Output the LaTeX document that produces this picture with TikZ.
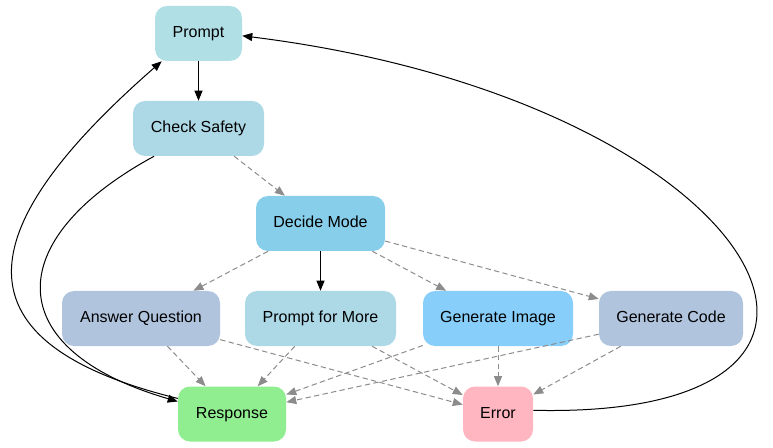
\documentclass[tikz,border=0pt]{standalone}
\usepackage{fontspec}
\setmainfont{Liberation Sans}
\usetikzlibrary{arrows.meta}
\definecolor{powder}{HTML}{B0E0E6}
\definecolor{light}{HTML}{ADD8E6}
\definecolor{sky}{HTML}{87CEEB}
\definecolor{lightsky}{HTML}{87CEFA}
\definecolor{steel}{HTML}{B0C4DE}
\definecolor{green}{HTML}{90EE90}
\definecolor{pink}{HTML}{FFB6C1}
\definecolor{edgegray}{HTML}{8C8C8C}
\begin{document}
\begin{tikzpicture}[x=0.75pt,y=-0.75pt,
    box/.style={rounded corners=9pt, minimum height=41.25pt, inner sep=0pt,
      text height=8.7pt, text depth=2.4pt, font=\fontsize{12}{14}\selectfont},
    flow/.style={-{Triangle[length=7.5pt,width=6pt]}, line width=0.75pt},
    alt/.style={flow, draw=edgegray, dash pattern=on 4pt off 2.5pt}]
  \useasboundingbox (0,0) rectangle (773,448);
  % states
  \node[box, fill=powder, minimum width=65.25pt] (prompt) at (198.5,33.5) {Prompt};
  \node[box, fill=light, minimum width=98.25pt] (check) at (198.5,128.5) {Check Safety};
  \node[box, fill=sky, minimum width=96.75pt] (decide) at (320.5,223.5) {Decide Mode};
  \node[box, fill=steel, minimum width=118.5pt] (answer) at (141,318.5) {Answer Question};
  \node[box, fill=light, minimum width=113.25pt] (more) at (320.5,318.5) {Prompt for More};
  \node[box, fill=lightsky, minimum width=112.5pt] (image) at (498,318.5) {Generate Image};
  \node[box, fill=steel, minimum width=108pt] (code) at (671,318.5) {Generate Code};
  \node[box, fill=green, minimum width=81pt] (response) at (232,414) {Response};
  \node[box, fill=pink, minimum width=52.5pt] (error) at (498,414) {Error};
  % solid
  \draw[flow] (prompt) -- (check);
  \draw[flow] (decide) -- (more);
  \draw[flow] (check.-148) .. controls (0,240) and (0,350) .. (response.167);
  \draw[flow] (response.164) .. controls (-60,340) and (-20,220) .. (prompt.-143);
  \draw[flow] (error.6) .. controls (940,420) and (760,100) .. (prompt.-3);
  % dashed
  \draw[alt] (check) -- (decide);
  \foreach \t in {answer,image,code}
    \draw[alt] (decide) -- (\t);
  \foreach \s in {answer,more,image,code} {
    \draw[alt] (\s) -- (response);
    \draw[alt] (\s) -- (error);
  }
\end{tikzpicture}
\end{document}
